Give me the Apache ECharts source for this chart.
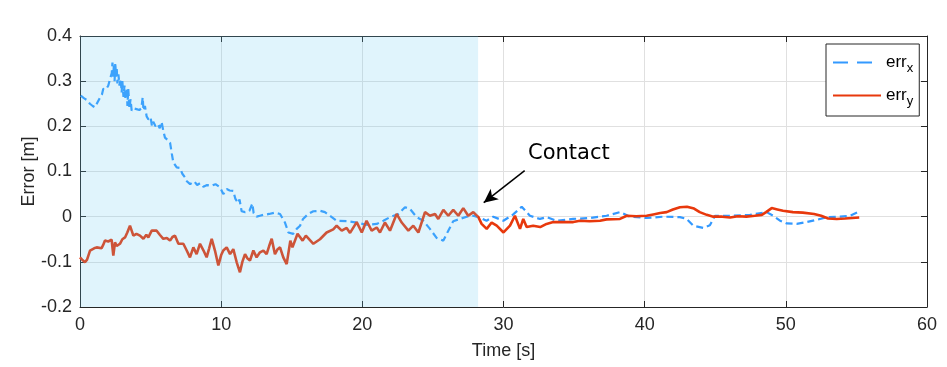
<!DOCTYPE html>
<html>
<head>
<meta charset="utf-8">
<script src="https://cdn.jsdelivr.net/npm/echarts@6/dist/echarts.min.js"></script>
<style>
  html, body { margin: 0; padding: 0; background: #fff; }
  #chart { width: 947px; height: 367px; }
</style>
</head>
<body>
<div id="chart"></div>
<script>
// x / y error over time as [time s, error m]
const errX = [
  [0.05, 0.268], [0.3, 0.262], [0.5, 0.258], [0.7, 0.25], [0.9, 0.245], [1.06, 0.242], [1.2, 0.245],
  [1.42, 0.264], [1.55, 0.27], [1.65, 0.283], [1.85, 0.282], [2.0, 0.29], [2.13, 0.305], [2.25, 0.318],
  [2.3, 0.341], [2.35, 0.31], [2.4, 0.335], [2.45, 0.3], [2.5, 0.341], [2.55, 0.31], [2.6, 0.33],
  [2.65, 0.295], [2.72, 0.315], [2.8, 0.29], [2.88, 0.305], [2.95, 0.275], [3.0, 0.3], [3.08, 0.265],
  [3.15, 0.29], [3.22, 0.26], [3.31, 0.285], [3.36, 0.245], [3.42, 0.283], [3.5, 0.24], [3.58, 0.26],
  [3.66, 0.235], [3.78, 0.24], [4.0, 0.238], [4.2, 0.236], [4.35, 0.24], [4.44, 0.264], [4.5, 0.235],
  [4.6, 0.245], [4.72, 0.222], [4.85, 0.215], [5.0, 0.22], [5.1, 0.2], [5.19, 0.21], [5.35, 0.2],
  [5.5, 0.205], [5.65, 0.196], [5.78, 0.21], [5.9, 0.19], [6.02, 0.175], [6.2, 0.17], [6.38, 0.164],
  [6.5, 0.14], [6.61, 0.12], [6.85, 0.109], [7.08, 0.108], [7.25, 0.095], [7.44, 0.087], [7.51, 0.08],
  [7.8, 0.072], [8.1, 0.078], [8.3, 0.07], [8.5, 0.074], [8.74, 0.066], [9.0, 0.07], [9.3, 0.068],
  [9.6, 0.072], [9.92, 0.065], [10.15, 0.05], [10.39, 0.061], [10.6, 0.058], [10.86, 0.057], [11.0, 0.04],
  [11.2, 0.03], [11.3, 0.038], [11.45, 0.012], [11.7, 0.01], [12.0, 0.013], [12.21, 0.029], [12.3, 0.008],
  [12.51, 0.0], [12.75, 0.002], [12.99, 0.004], [13.4, 0.006], [13.8, 0.009], [14.17, 0.006],
  [14.52, -0.013], [14.76, -0.035], [15.1, -0.038], [15.35, -0.027], [15.59, -0.02], [15.8, -0.005],
  [16.17, 0.006], [16.53, 0.012], [17.0, 0.013], [17.35, 0.01], [17.71, 0.002], [18.18, -0.009],
  [18.89, -0.01], [19.6, -0.013], [20.3, -0.018], [21.02, -0.016], [21.49, -0.009], [21.96, -0.001],
  [22.55, 0.006], [23.02, 0.021], [23.38, 0.017], [23.85, -0.001], [24.32, -0.009], [24.79, -0.027],
  [25.26, -0.047], [25.74, -0.053], [26.09, -0.031], [26.44, -0.01], [26.92, -0.005], [27.39, 0.0],
  [27.86, 0.002], [28.33, -0.002], [28.8, -0.009], [29.28, 0.0], [29.99, -0.009], [30.69, 0.005],
  [31.29, 0.022], [31.87, 0.002], [32.58, -0.005], [33.05, -0.001], [33.76, -0.009], [34.94, -0.005],
  [36.13, -0.003], [37.3, 0.002], [38.25, 0.01], [38.96, 0.0], [40.14, -0.003], [41.32, 0.0],
  [42.5, -0.001], [42.97, -0.005], [43.45, -0.02], [44.15, -0.025], [44.62, -0.019], [44.98, 0.002],
  [46.2, 0.002], [47.46, 0.004], [48.64, 0.01], [49.11, 0.002], [49.59, -0.009], [50.06, -0.015],
  [50.77, -0.016], [51.48, -0.012], [52.19, -0.007], [52.9, -0.001], [53.84, 0.0], [54.55, 0.002],
  [55.25, 0.012]
]

const errY = [
  [0.0, -0.09], [0.15, -0.095], [0.35, -0.101], [0.5, -0.095], [0.71, -0.075], [1.0, -0.07], [1.18, -0.068],
  [1.53, -0.07], [1.65, -0.062], [1.77, -0.053], [2.0, -0.055], [2.24, -0.051], [2.36, -0.086],
  [2.48, -0.057], [2.6, -0.065], [2.83, -0.06], [3.0, -0.05], [3.19, -0.046], [3.35, -0.035],
  [3.54, -0.02], [3.78, -0.042], [4.0, -0.038], [4.25, -0.042], [4.49, -0.049], [4.7, -0.04],
  [4.84, -0.046], [5.08, -0.031], [5.43, -0.031], [5.65, -0.04], [5.9, -0.049], [6.15, -0.047],
  [6.38, -0.053], [6.55, -0.045], [6.73, -0.042], [6.97, -0.06], [7.32, -0.06], [7.56, -0.075],
  [7.79, -0.09], [8.03, -0.068], [8.26, -0.083], [8.5, -0.06], [8.75, -0.075], [8.97, -0.09],
  [9.15, -0.07], [9.33, -0.049], [9.56, -0.075], [9.8, -0.108], [10.0, -0.085], [10.15, -0.075],
  [10.39, -0.068], [10.63, -0.083], [10.86, -0.072], [11.1, -0.101], [11.33, -0.123], [11.5, -0.1],
  [11.69, -0.083], [11.85, -0.092], [12.04, -0.097], [12.28, -0.075], [12.51, -0.09], [12.75, -0.079],
  [12.99, -0.075], [13.22, -0.083], [13.4, -0.065], [13.58, -0.049], [13.81, -0.083], [14.0, -0.072],
  [14.17, -0.068], [14.4, -0.09], [14.64, -0.105], [14.9, -0.053], [15.05, -0.068], [15.41, -0.038],
  [15.77, -0.053], [16.0, -0.042], [16.53, -0.06], [17.0, -0.05], [17.47, -0.035], [17.94, -0.028],
  [18.18, -0.02], [18.54, -0.031], [18.89, -0.025], [19.13, -0.036], [19.6, -0.012], [19.96, -0.035],
  [20.3, -0.009], [20.66, -0.031], [21.02, -0.024], [21.25, -0.035], [21.6, -0.013], [21.96, -0.031],
  [22.43, 0.006], [22.79, -0.013], [23.26, -0.031], [23.61, -0.02], [23.97, -0.035], [24.44, 0.01],
  [24.79, 0.002], [25.15, 0.006], [25.38, -0.005], [25.74, 0.015], [26.09, 0.002], [26.44, 0.015],
  [26.8, 0.002], [27.15, 0.019], [27.5, 0.002], [27.86, 0.01], [28.22, -0.001], [28.45, -0.016],
  [28.81, -0.027], [29.16, -0.013], [29.52, -0.02], [30.0, -0.035], [30.46, -0.02], [30.81, 0.002],
  [31.17, -0.027], [31.4, -0.005], [31.64, -0.023], [32.1, -0.02], [32.6, -0.023], [33.05, -0.016],
  [33.53, -0.012], [34.2, -0.012], [34.94, -0.012], [35.42, -0.009], [36.1, -0.01], [36.84, -0.009],
  [37.3, -0.006], [38.25, -0.005], [38.73, 0.002], [39.4, 0.001], [40.14, 0.002], [40.61, 0.005],
  [41.1, 0.008], [41.56, 0.01], [42.0, 0.016], [42.5, 0.021], [43.0, 0.022], [43.5, 0.018], [43.9, 0.01],
  [44.4, 0.004], [44.86, 0.0], [45.5, 0.0], [46.05, -0.002], [46.6, 0.001], [47.2, 0.0], [47.8, 0.002],
  [48.3, 0.004], [48.6, 0.01], [49.0, 0.019], [49.4, 0.016], [49.8, 0.013], [50.5, 0.01], [51.2, 0.009],
  [52.0, 0.006], [52.5, 0.002], [53.0, -0.004], [53.6, -0.005], [54.2, -0.004], [54.7, -0.003],
  [55.2, -0.002]
]

// shaded phase before contact, and the arrow annotation
const shadeRange = [0, 28.2]
const arrowFrom = [31.5, 0.102]
const arrowTo = [28.6, 0.031]
const contactLabel = [31.7, 0.139]

const FONT = 'Liberation Sans'
const AXIS_COLOR = '#262626'

const chart = echarts.init(document.getElementById('chart'), null, { renderer: 'canvas' })

// top / right axes only close the box, like a matlab "box on"
const boxAxis = {
  axisLine: { show: true, onZero: false, lineStyle: { color: AXIS_COLOR, width: 1 } },
  axisTick: { show: true, inside: true, length: 6, lineStyle: { color: AXIS_COLOR } },
  axisLabel: { show: false },
  splitLine: { show: false }
}

const option = {
  animation: false,
  grid: { left: 80, right: 20, top: 36, bottom: 60 },
  legend: {
    orient: 'vertical',
    left: 826,
    top: 44,
    padding: [10, 6, 8, 6],
    itemWidth: 48,
    itemHeight: 10,
    itemGap: 12,
    backgroundColor: '#fff',
    borderColor: AXIS_COLOR,
    borderWidth: 1,
    textStyle: {
      fontFamily: FONT,
      color: '#000',
      rich: {
        a: { fontSize: 17, fontFamily: FONT, color: '#000' },
        b: { fontSize: 13, fontFamily: FONT, color: '#000', padding: [12, 0, 0, 0] }
      }
    },
    formatter: name => name === 'errx' ? '{a|err}{b|x}' : '{a|err}{b|y}',
    data: [
      { name: 'errx', itemStyle: { opacity: 0 }, lineStyle: { type: [15, 9], width: 2 } },
      { name: 'erry', itemStyle: { opacity: 0 }, lineStyle: { width: 2 } }
    ]
  },
  xAxis: [
    {
      type: 'value',
      min: 0,
      max: 60,
      interval: 10,
      name: 'Time [s]',
      nameLocation: 'middle',
      nameGap: 35,
      nameMoveOverlap: false,
      nameTextStyle: { fontFamily: FONT, fontSize: 18, color: AXIS_COLOR },
      axisLine: { show: true, onZero: false, lineStyle: { color: AXIS_COLOR } },
      axisTick: { show: true, inside: true, length: 6, lineStyle: { color: AXIS_COLOR } },
      axisLabel: { fontFamily: FONT, fontSize: 18, color: AXIS_COLOR, margin: 9 },
      splitLine: { show: true, lineStyle: { color: '#e0e0e0', width: 1 } }
    },
    Object.assign({ type: 'value', position: 'top', min: 0, max: 60, interval: 10 }, boxAxis)
  ],
  yAxis: [
    {
      type: 'value',
      min: -0.2,
      max: 0.4,
      interval: 0.1,
      name: 'Error [m]',
      nameLocation: 'middle',
      nameGap: 42,
      nameMoveOverlap: false,
      nameTextStyle: { fontFamily: FONT, fontSize: 18, color: AXIS_COLOR },
      axisLine: { show: true, onZero: false, lineStyle: { color: AXIS_COLOR } },
      axisTick: { show: true, inside: true, length: 6, lineStyle: { color: AXIS_COLOR } },
      axisLabel: { fontFamily: FONT, fontSize: 18, color: AXIS_COLOR, margin: 8 },
      splitLine: { show: true, lineStyle: { color: '#e0e0e0', width: 1 } }
    },
    Object.assign({ type: 'value', position: 'right', min: -0.2, max: 0.4, interval: 0.1 }, boxAxis)
  ],
  series: [
    {
      name: 'errx',
      type: 'line',
      data: errX,
      symbol: 'none',
      lineStyle: { color: '#3399ff', width: 2.2, type: [7, 4] },
      itemStyle: { color: '#3399ff' },
      z: 2
    },
    {
      name: 'erry',
      type: 'line',
      data: errY,
      symbol: 'none',
      lineStyle: { color: '#e8380c', width: 2.6 },
      itemStyle: { color: '#e8380c' },
      z: 3
    },
    {
      name: 'shade',
      type: 'line',
      data: [],
      silent: true,
      z: 4,
      markArea: {
        silent: true,
        z: 10,
        itemStyle: { color: 'rgba(100,200,240,0.2)' },
        data: [[{ xAxis: shadeRange[0] }, { xAxis: shadeRange[1] }]]
      }
    },
    {
      name: 'note',
      type: 'line',
      data: [],
      silent: true,
      z: 6,
      markLine: {
        silent: true,
        z: 12,
        symbol: ['none', 'arrow'],
        symbolSize: [10, 14],
        label: { show: false },
        lineStyle: { color: '#000', width: 1.5, type: 'solid' },
        data: [[{ coord: arrowFrom }, { coord: arrowTo }]]
      },
      markPoint: {
        silent: true,
        z: 12,
        symbol: 'rect',
        symbolSize: 1,
        itemStyle: { color: 'rgba(0,0,0,0)' },
        label: {
          show: true,
          position: 'right',
          distance: 0,
          formatter: 'Contact',
          fontFamily: 'DejaVu Sans',
          fontSize: 21,
          color: '#000'
        },
        data: [{ coord: contactLabel }]
      }
    }
  ]
}

chart.setOption(option)
</script>
</body>
</html>
